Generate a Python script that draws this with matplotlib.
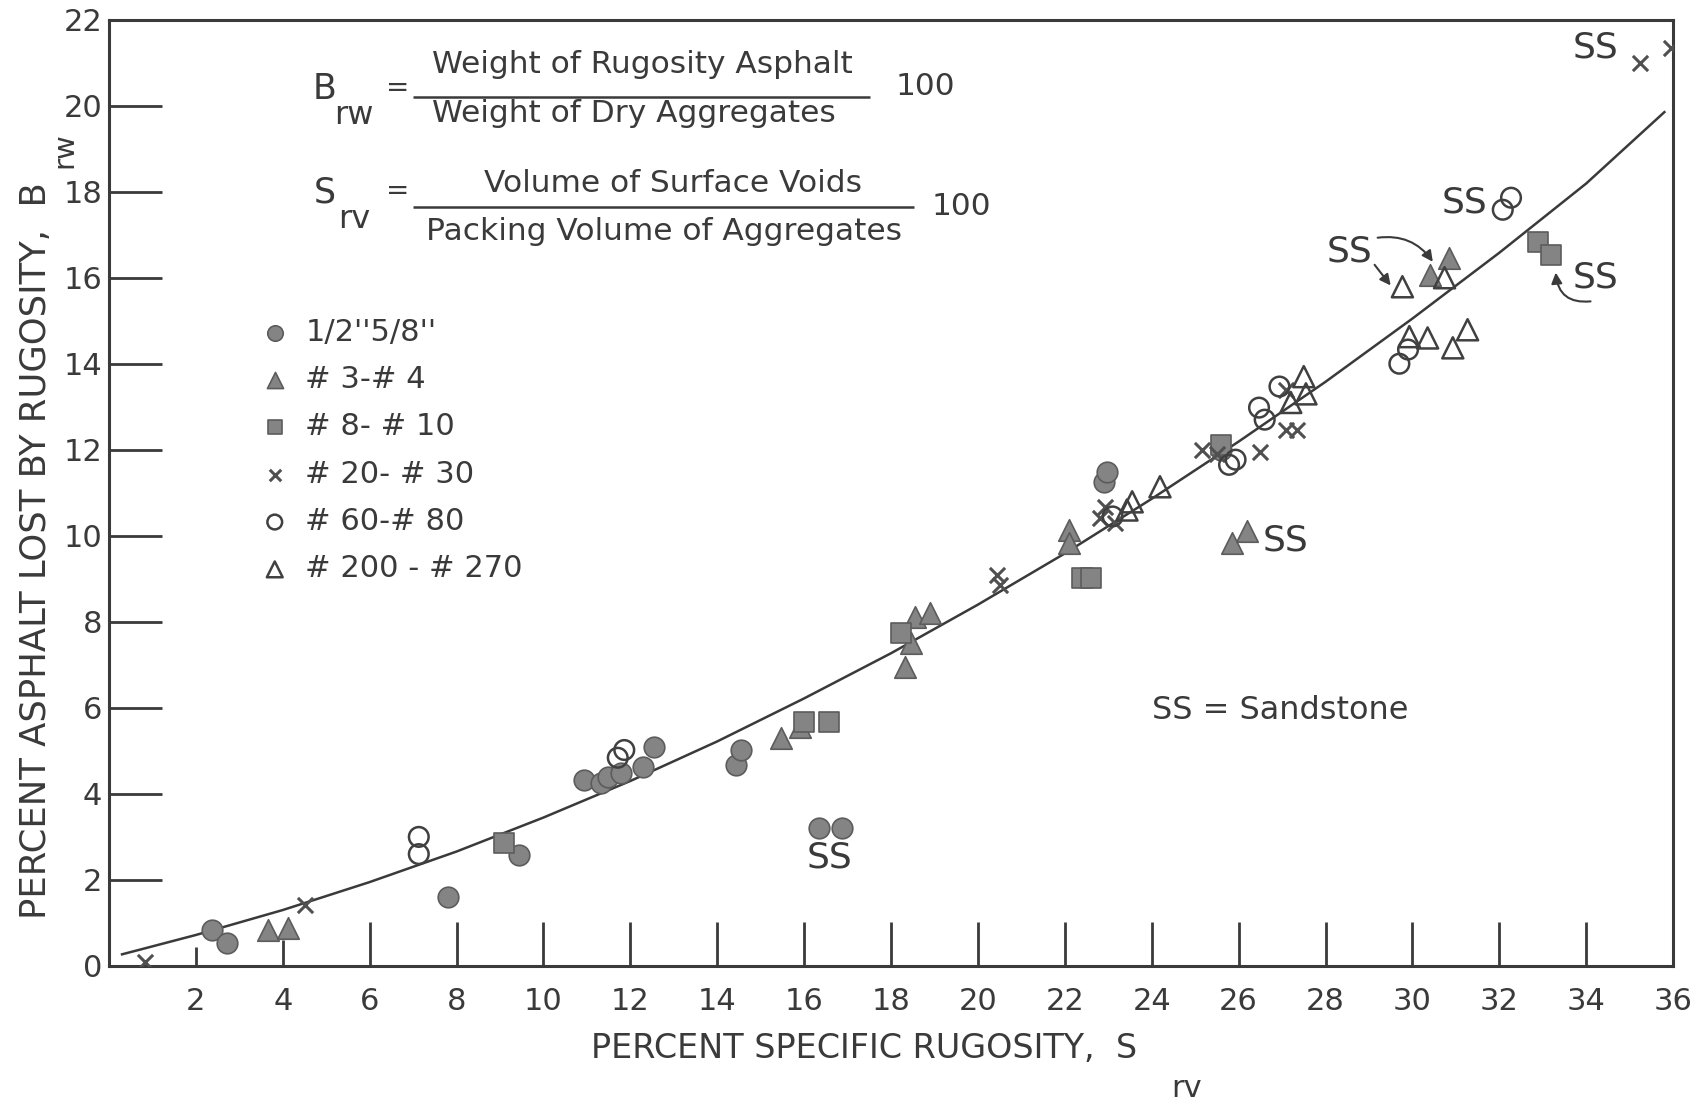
import numpy as np
import matplotlib
matplotlib.use("Agg")
import matplotlib.pyplot as plt

# ------------------------------------------------------------------ data
# fitted curve
curve_x = [0.3, 2, 4, 6, 8, 10, 12, 14, 16, 18, 20, 22, 24, 26, 28, 30, 32, 34, 35.8]
curve_y = [0.27, 0.72, 1.30, 1.95, 2.66, 3.45, 4.30, 5.22, 6.22, 7.27, 8.40,
           9.59, 10.86, 12.19, 13.58, 15.05, 16.58, 18.19, 19.85]

# 1/2"-5/8"  (filled circles)
circ_x = [2.38, 2.72, 7.80, 9.43, 10.93, 11.32, 11.48, 11.78, 12.29, 12.55,
          14.44, 14.55, 16.35, 16.86, 22.90, 22.97, 25.60]
circ_y = [0.84, 0.53, 1.60, 2.58, 4.33, 4.26, 4.40, 4.49, 4.63, 5.09,
          4.67, 5.02, 3.21, 3.21, 11.26, 11.49, 12.00]

# #3-#4  (filled triangles)
tri_x = [3.67, 4.13, 15.47, 15.90, 18.31, 18.45, 18.54, 18.89, 22.09, 22.09,
         25.85, 26.20, 30.40, 30.85]
tri_y = [0.84, 0.88, 5.30, 5.56, 6.95, 7.50, 8.12, 8.21, 10.14, 9.83,
         9.83, 10.10, 16.07, 16.46]

# #8-#10  (filled squares)
sq_x = [9.10, 16.00, 16.58, 18.24, 22.40, 22.60, 25.60, 32.89, 33.19]
sq_y = [2.85, 5.67, 5.67, 7.74, 9.02, 9.02, 12.10, 16.84, 16.53]

# #20-#30  (crosses)
x_x = [0.83, 4.52, 20.45, 20.50, 22.93, 22.80, 23.16, 25.16, 25.50, 26.50,
       27.08, 27.35, 27.10, 35.24, 35.95]
x_y = [0.10, 1.42, 9.10, 8.85, 10.68, 10.42, 10.30, 12.00, 11.90, 11.95,
       12.47, 12.47, 13.40, 21.00, 21.35]

# #60-#80  (open circles)
oc_x = [7.13, 7.13, 11.86, 11.71, 23.10, 25.78, 25.93, 26.47, 26.60, 26.94,
        29.70, 29.90, 32.08, 32.27]
oc_y = [3.00, 2.60, 5.02, 4.84, 10.45, 11.65, 11.77, 12.98, 12.70, 13.47,
        14.00, 14.33, 17.58, 17.86]

# #200-#270  (open triangles)
ot_x = [23.43, 23.55, 24.19, 27.20, 27.50, 27.55, 29.77, 29.93, 30.35, 30.74,
        30.93, 31.27]
ot_y = [10.60, 10.79, 11.14, 13.10, 13.70, 13.30, 15.79, 14.63, 14.60, 16.00,
        14.37, 14.79]

legend_labels = ["1/2''5/8''", "# 3-# 4", "# 8- # 10", "# 20- # 30",
                 "# 60-# 80", "# 200 - # 270"]

x_ticks = list(range(2, 37, 2))
y_ticks = list(range(0, 23, 2))

# ------------------------------------------------------------------ style
INK = "#3a3a3a"
FILL = "#848484"
EDGE = "#5c5c5c"

plt.rcParams["font.family"] = ["DejaVu Sans"]

fig = plt.figure(figsize=(17.06, 11.09), dpi=100)
ax = fig.add_axes([0.0639, 0.1290, 0.9168, 0.8533])

ax.plot(curve_x, curve_y, color=INK, lw=1.8, zorder=2)

h1 = ax.scatter(circ_x, circ_y, s=220, marker="o", fc=FILL, ec=EDGE, lw=1.2, zorder=3)
h2 = ax.scatter(tri_x, tri_y, s=240, marker="^", fc=FILL, ec=EDGE, lw=1.2, zorder=3)
h3 = ax.scatter(sq_x, sq_y, s=200, marker="s", fc=FILL, ec=EDGE, lw=1.2, zorder=3)
h4 = ax.scatter(x_x, x_y, s=120, marker="x", color="#505050", lw=2.2, zorder=4)
h5 = ax.scatter(oc_x, oc_y, s=200, marker="o", fc="none", ec="#404040", lw=1.8, zorder=4)
h6 = ax.scatter(ot_x, ot_y, s=230, marker="^", fc="none", ec="#404040", lw=1.8, zorder=4)

leg = ax.legend([h1, h2, h3, h4, h5, h6], legend_labels, loc="upper left",
                bbox_to_anchor=(0.0962, 0.685), frameon=False, fontsize=22,
                markerscale=0.75, borderpad=0, handlelength=1.0,
                handletextpad=0.5, labelspacing=0.60, borderaxespad=0)
for t in leg.get_texts():
    t.set_color(INK)

# axes frame and ticks
ax.set_xlim(0, 36)
ax.set_ylim(0, 22)
for sp in ax.spines.values():
    sp.set_linewidth(2.2)
    sp.set_color(INK)
ax.set_xticks(x_ticks)
ax.set_yticks(y_ticks)
ax.tick_params(axis="x", direction="in", length=32, width=2.0, color=INK,
               labelsize=22, pad=15, labelcolor=INK)
ax.tick_params(axis="y", direction="in", length=38, width=2.0, color=INK,
               labelsize=22, pad=5, labelcolor=INK)
ax.tick_params(top=False, right=False)
xt = ax.xaxis.get_major_ticks()
xt[0].tick1line.set_markersize(14)
xt[1].tick1line.set_markersize(19)

# axis titles, with the big lowered subscripts of the original
ax.text(0.308, -0.097, "PERCENT SPECIFIC RUGOSITY,  S", transform=ax.transAxes,
        ha="left", va="baseline", fontsize=24, color=INK)
ax.text(0.689, -0.138, "rv", transform=ax.transAxes,
        ha="center", va="baseline", fontsize=22, color=INK)
ax.text(-0.0467, 0.05, "PERCENT ASPHALT LOST BY RUGOSITY,  B", transform=ax.transAxes,
        ha="center", va="bottom", rotation=90, fontsize=25.5, color=INK)
ax.text(-0.0285, 0.862, "rw", transform=ax.transAxes,
        ha="center", va="center", rotation=90, fontsize=21, color=INK)

# definitions
fs = 22.5
ax.text(4.97, 20.38, "B", fontsize=25, ha="center", va="center", color=INK)
ax.text(5.64, 19.77, "rw", fontsize=23, ha="center", va="center", color=INK)
ax.text(6.65, 20.42, "=", fontsize=20, ha="center", va="center", color=INK)
ax.text(12.27, 20.95, "Weight of Rugosity Asphalt", fontsize=fs, ha="center", va="center", color=INK)
ax.hlines(20.21, 7.0, 17.52, color=INK, lw=1.8)
ax.text(12.07, 19.82, "Weight of Dry Aggregates", fontsize=fs, ha="center", va="center", color=INK)
ax.text(18.8, 20.44, "100", fontsize=fs, ha="center", va="center", color=INK)

ax.text(4.97, 17.98, "S", fontsize=25, ha="center", va="center", color=INK)
ax.text(5.64, 17.35, "rv", fontsize=23, ha="center", va="center", color=INK)
ax.text(6.65, 18.02, "=", fontsize=20, ha="center", va="center", color=INK)
ax.text(12.98, 18.20, "Volume of Surface Voids", fontsize=fs, ha="center", va="center", color=INK)
ax.hlines(17.65, 7.0, 18.53, color=INK, lw=1.8)
ax.text(12.77, 17.07, "Packing Volume of Aggregates", fontsize=fs, ha="center", va="center", color=INK)
ax.text(19.62, 17.65, "100", fontsize=fs, ha="center", va="center", color=INK)

# sandstone labels
ss_fs = 26
ax.text(16.58, 2.53, "SS", fontsize=ss_fs, ha="center", va="center", color=INK)
ax.text(27.08, 9.90, "SS", fontsize=ss_fs, ha="center", va="center", color=INK)
ax.text(28.55, 16.60, "SS", fontsize=ss_fs, ha="center", va="center", color=INK)
ax.text(31.20, 17.74, "SS", fontsize=ss_fs, ha="center", va="center", color=INK)
ax.text(34.22, 16.00, "SS", fontsize=ss_fs, ha="center", va="center", color=INK)
ax.text(34.22, 21.35, "SS", fontsize=ss_fs, ha="center", va="center", color=INK)
ax.text(24.0, 5.94, "SS = Sandstone", fontsize=23, ha="left", va="center", color=INK)

arrow = dict(arrowstyle="-|>", color=INK, lw=1.5, mutation_scale=16, shrinkA=0, shrinkB=0)
ax.annotate("", xy=(29.50, 15.82), xytext=(29.13, 16.30),
            arrowprops=dict(arrow, connectionstyle="arc3,rad=0"))
ax.annotate("", xy=(30.47, 16.37), xytext=(29.20, 16.93),
            arrowprops=dict(arrow, connectionstyle="arc3,rad=-0.3"))
ax.annotate("", xy=(33.30, 16.12), xytext=(34.10, 15.45),
            arrowprops=dict(arrow, connectionstyle="arc3,rad=-0.5"))

fig.savefig("out.png", dpi=100)
